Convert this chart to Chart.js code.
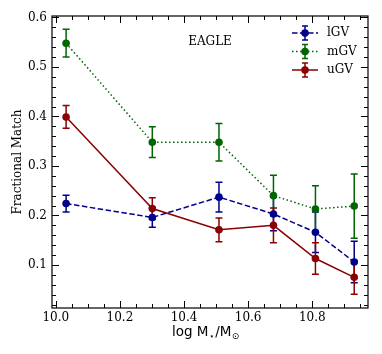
<!DOCTYPE html>
<html>
<head>
<meta charset="utf-8">
<script src="https://cdn.jsdelivr.net/npm/chart.js@4/dist/chart.umd.min.js"></script>
<style>
  html, body { margin: 0; padding: 0; background: #fff; }
  #wrap { width: 382px; height: 354px; position: relative; }
</style>
</head>
<body>
<div id="wrap"><canvas id="chart"></canvas></div>
<script>
// x 位置 (log M*/Msun)
const massBins = [10.032, 10.301, 10.509, 10.679, 10.810, 10.931];

// 各系列的值
const lgvValues = [0.224, 0.196, 0.237, 0.203, 0.166, 0.106];
const mgvValues = [0.548, 0.348, 0.348, 0.240, 0.213, 0.219];
const ugvValues = [0.399, 0.214, 0.171, 0.180, 0.113, 0.075];

// 误差 (对称)
const lgvErrors = [0.017, 0.020, 0.030, 0.034, 0.041, 0.042];
const mgvErrors = [0.028, 0.031, 0.038, 0.041, 0.047, 0.065];
const ugvErrors = [0.023, 0.022, 0.024, 0.035, 0.032, 0.034];

const seriesLabels = ['lGV', 'mGV', 'uGV'];

// 刻度
const xTickValues = [10.0, 10.2, 10.4, 10.6, 10.8];
const yTickValues = [0.1, 0.2, 0.3, 0.4, 0.5, 0.6];

const colors = ['#00008b', '#006400', '#8b0000'];
const dashes = [[5.5, 2.5], [1.5, 2.5], []];

const serif = '"DejaVu Serif", serif';

function toPoints(values) {
    return massBins.map((x, i) => ({ x: x, y: values[i] }));
}

const allErrors = [lgvErrors, mgvErrors, ugvErrors];

// 误差棒
const errorBarPlugin = {
    id: 'errorBars',
    beforeDatasetsDraw(chart) {
        const ctx = chart.ctx;
        const xs = chart.scales.x, ys = chart.scales.y;
        chart.data.datasets.forEach((ds, di) => {
            ctx.save();
            ctx.strokeStyle = ds.borderColor;
            ctx.lineWidth = 1.5;
            ds.data.forEach((p, i) => {
                const err = allErrors[di][i];
                const px = xs.getPixelForValue(p.x);
                const top = ys.getPixelForValue(p.y + err);
                const bot = ys.getPixelForValue(p.y - err);
                ctx.beginPath();
                ctx.moveTo(px, top); ctx.lineTo(px, bot);
                ctx.moveTo(px - 3.5, top); ctx.lineTo(px + 3.5, top);
                ctx.moveTo(px - 3.5, bot); ctx.lineTo(px + 3.5, bot);
                ctx.stroke();
            });
            ctx.restore();
        });
    }
};

// 边框、内向刻度、文字、图例
const framePlugin = {
    id: 'frame',
    afterDraw(chart) {
        const ctx = chart.ctx;
        const a = chart.chartArea;
        const xs = chart.scales.x, ys = chart.scales.y;
        ctx.save();
        ctx.strokeStyle = '#000';
        ctx.lineWidth = 1;

        // x 刻度
        for (let v = 10.0; v <= 10.97; v += 0.05) {
            const major = Math.abs(v * 5 - Math.round(v * 5)) < 1e-6;
            const len = major ? 7 : 4;
            const px = Math.round(xs.getPixelForValue(v)) + 0.5;
            ctx.beginPath();
            ctx.moveTo(px, a.bottom); ctx.lineTo(px, a.bottom - len);
            ctx.moveTo(px, a.top); ctx.lineTo(px, a.top + len);
            ctx.stroke();
        }
        // y 刻度
        for (let k = 1; k <= 30; k++) {
            const v = k * 0.02;
            if (v < ys.min || v > ys.max) continue;
            const major = k % 5 === 0;
            const len = major ? 7 : 4;
            const py = Math.round(ys.getPixelForValue(v)) + 0.5;
            ctx.beginPath();
            ctx.moveTo(a.left, py); ctx.lineTo(a.left + len, py);
            ctx.moveTo(a.right, py); ctx.lineTo(a.right - len, py);
            ctx.stroke();
        }

        ctx.lineWidth = 1.2;
        ctx.strokeRect(a.left, a.top, a.right - a.left, a.bottom - a.top);

        // EAGLE
        ctx.fillStyle = '#000';
        ctx.font = '12px ' + serif;
        ctx.textAlign = 'center';
        ctx.textBaseline = 'middle';
        ctx.fillText('EAGLE', 210, 42);

        // y 轴标题
        ctx.save();
        ctx.translate(18, (a.top + a.bottom) / 2);
        ctx.rotate(-Math.PI / 2);
        ctx.font = '12px ' + serif;
        ctx.fillText('Fractional Match', 0, 0);
        ctx.restore();

        // x 轴标题
        ctx.textAlign = 'left';
        ctx.textBaseline = 'alphabetic';
        let x = 172;
        const base = 336;
        ctx.font = '13.5px "DejaVu Sans", sans-serif';
        ctx.fillText('log M', x, base);
        x += ctx.measureText('log M').width + 0.5;
        ctx.font = '9px "DejaVu Sans", sans-serif';
        ctx.fillText('⋆', x, base + 3);
        x += ctx.measureText('⋆').width + 0.5;
        ctx.font = '13.5px "DejaVu Sans", sans-serif';
        ctx.fillText('/M', x, base);
        x += ctx.measureText('/M').width + 0.5;
        ctx.font = '9px "DejaVu Sans", sans-serif';
        ctx.fillText('⊙', x, base + 3);

        // 图例
        chart.data.datasets.forEach((ds, i) => {
            const y = 33 + i * 18.5;
            ctx.strokeStyle = ds.borderColor;
            ctx.fillStyle = ds.borderColor;
            ctx.lineWidth = 1.5;
            ctx.setLineDash(dashes[i]);
            ctx.beginPath();
            ctx.moveTo(292, y); ctx.lineTo(318, y);
            ctx.stroke();
            ctx.setLineDash([]);
            ctx.beginPath();
            ctx.moveTo(305, y - 7); ctx.lineTo(305, y + 7);
            ctx.moveTo(302, y - 7); ctx.lineTo(308, y - 7);
            ctx.moveTo(302, y + 7); ctx.lineTo(308, y + 7);
            ctx.stroke();
            ctx.beginPath();
            ctx.arc(305, y, 3.8, 0, Math.PI * 2);
            ctx.fill();
            ctx.fillStyle = '#000';
            ctx.font = '12px ' + serif;
            ctx.textBaseline = 'middle';
            ctx.fillText(ds.label, 327, y);
        });
        ctx.restore();
    }
};

const seriesValues = [lgvValues, mgvValues, ugvValues];

const datasets = seriesLabels.map((label, i) => ({
    label: label,
    data: toPoints(seriesValues[i]),
    showLine: true,
    borderColor: colors[i],
    backgroundColor: colors[i],
    borderWidth: 1.5,
    borderDash: dashes[i],
    pointRadius: 3.8,
    pointBorderWidth: 0,
    pointBackgroundColor: colors[i],
    order: 3 - i
}));

new Chart(document.getElementById('chart'), {
    type: 'scatter',
    data: { datasets: datasets },
    options: {
        responsive: true,
        maintainAspectRatio: false,
        animation: false,
        layout: { padding: { left: 0, right: 14, top: 16, bottom: 0 } },
        plugins: {
            legend: { display: false },
            tooltip: { enabled: false }
        },
        scales: {
            x: {
                type: 'linear',
                min: 9.988,
                max: 10.974,
                afterBuildTicks: s => { s.ticks = xTickValues.map(v => ({ value: v })); },
                afterFit: s => { s.height = 46; },
                grid: { display: false, drawTicks: false },
                border: { display: false },
                ticks: {
                    padding: 3,
                    color: '#000',
                    font: { family: serif, size: 12 },
                    callback: v => v.toFixed(1)
                }
            },
            y: {
                type: 'linear',
                min: 0.013,
                max: 0.603,
                afterBuildTicks: s => { s.ticks = yTickValues.map(v => ({ value: v })); },
                afterFit: s => { s.width = 52; },
                grid: { display: false, drawTicks: false },
                border: { display: false },
                ticks: {
                    padding: 5,
                    color: '#000',
                    font: { family: serif, size: 12 },
                    callback: v => v.toFixed(1)
                }
            }
        }
    },
    plugins: [errorBarPlugin, framePlugin]
});
</script>
</body>
</html>
